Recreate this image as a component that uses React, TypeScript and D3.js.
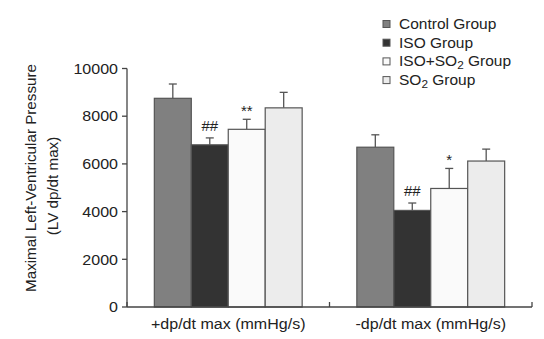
import React from "react";
import * as d3 from "d3";

const categories = ["+dp/dt max (mmHg/s)", "-dp/dt max (mmHg/s)"];
const groups = ["Control", "ISO", "ISO+SO2", "SO2"];
const means = [
  [8750, 6800, 7450, 8350],
  [6700, 4050, 4970, 6120],
];
const errors = [
  [600, 290, 420, 650],
  [520, 310, 840, 500],
];
const marks = [
  ["", "##", "**", ""],
  ["", "##", "*", ""],
];
const yTicks = [0, 2000, 4000, 6000, 8000, 10000];
const colors = ["#808080", "#333333", "#fafafa", "#ececec"];

const W = 544;
const H = 339;
const font = "'Liberation Sans', Arial, sans-serif";
const SX = 1.07;

function HText({ x, y, anchor = "start", size = 15, children, dy = "0" }: any) {
  return (
    <g transform={`translate(${x},${y}) scale(${SX},1)`}>
      <text x={0} y={0} dy={dy} textAnchor={anchor} fontSize={size} fill="#222">
        {children}
      </text>
    </g>
  );
}

function LegendLabel({ name }: { name: string }) {
  if (name.includes("SO2")) {
    const parts = name.split("SO2");
    return (
      <>
        {parts[0]}SO
        <tspan dy={3} fontSize={11}>2</tspan>
        <tspan dy={-3}>{" Group"}</tspan>
      </>
    );
  }
  return <>{name + " Group"}</>;
}

export default function App() {
  const left = 127;
  const right = 532;
  const top = 68.5;
  const bottom = 307;
  const y = d3.scaleLinear().domain([0, 10000]).range([bottom, top]);
  const x0 = d3.scaleBand().domain(categories).range([left, right]).paddingInner(0.27).paddingOuter(0.135);
  const x1 = d3.scaleBand().domain(groups).range([0, x0.bandwidth()]).padding(0);
  const axisColor = "#444";
  const bounds = [left, (left + right) / 2, right];

  return (
    <svg width={W} height={H} style={{ position: "absolute", left: 0, top: 0, background: "#fff" }} fontFamily={font}>
      <rect width={W} height={H} fill="#fff" />
      {categories.map((c, ci) => (
        <g key={c}>
          {groups.map((g, gi) => {
            const bx = (x0(c) as number) + (x1(g) as number);
            const bw = x1.bandwidth();
            const v = means[ci][gi];
            const e = errors[ci][gi];
            const cx = bx + bw / 2;
            const m = marks[ci][gi];
            const off = m.startsWith("#") ? 7 : 3.5;
            return (
              <g key={g}>
                <line x1={cx} x2={cx} y1={y(v)} y2={y(v + e)} stroke="#555" strokeWidth={1.3} />
                <line x1={cx - 4} x2={cx + 4} y1={y(v + e)} y2={y(v + e)} stroke="#555" strokeWidth={1.3} />
                <rect x={bx} y={y(v)} width={bw} height={bottom - y(v)} fill={colors[gi]} stroke="#555" strokeWidth={1.2} />
                {m && (
                  <HText x={cx} y={y(v + e) - off} anchor="middle" size={14}>
                    {m}
                  </HText>
                )}
              </g>
            );
          })}
          <HText x={(x0(c) as number) + x0.bandwidth() / 2} y={329} anchor="middle" size={15}>
            {c}
          </HText>
        </g>
      ))}
      <line x1={left} x2={left} y1={top} y2={bottom} stroke={axisColor} strokeWidth={1.3} />
      {yTicks.map((t) => (
        <g key={t}>
          <line x1={left - 5} x2={left} y1={y(t)} y2={y(t)} stroke={axisColor} strokeWidth={1.3} />
          <HText x={left - 9} y={y(t)} dy="0.35em" anchor="end" size={15}>
            {t}
          </HText>
        </g>
      ))}
      <line x1={left} x2={right} y1={bottom} y2={bottom} stroke={axisColor} strokeWidth={1.3} />
      {bounds.map((b, i) => (
        <line key={i} x1={b} x2={b} y1={bottom} y2={bottom - 5} stroke={axisColor} strokeWidth={1.3} />
      ))}
      <text transform={`translate(36,178) rotate(-90)`} textAnchor="middle" fontSize={15.2} fill="#222">
        Maximal Left-Ventricular Pressure
      </text>
      <text transform={`translate(58,186) rotate(-90)`} textAnchor="middle" fontSize={15.2} fill="#222">
        (LV dp/dt max)
      </text>
      {groups.map((g, gi) => {
        const ly = 24 + gi * 18.7;
        return (
          <g key={g}>
            <rect x={383} y={ly - 3.5} width={7} height={7} fill={colors[gi]} stroke="#555" strokeWidth={1} />
            <HText x={399} y={ly} dy="0.35em" size={14.5}>
              <LegendLabel name={g} />
            </HText>
          </g>
        );
      })}
    </svg>
  );
}
